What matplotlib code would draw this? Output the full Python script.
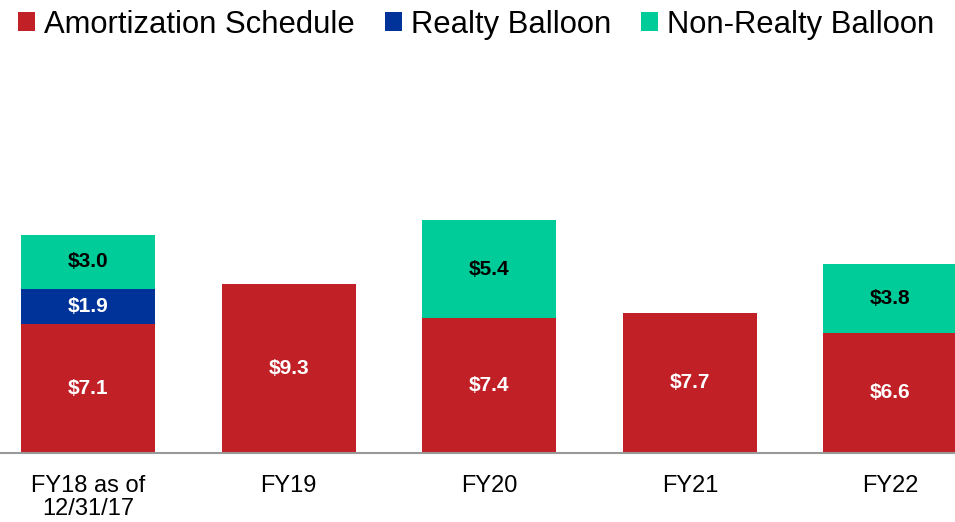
import matplotlib
matplotlib.use("Agg")
import matplotlib.pyplot as plt
import numpy as np
from matplotlib.patches import Patch

plt.rcParams['font.family'] = ['Liberation Sans', 'DejaVu Sans']

categories = ["FY18 as of\n12/31/17", "FY19", "FY20", "FY21", "FY22"]
amortization = [7.1, 9.3, 7.4, 7.7, 6.6]
realty = [1.9, 0, 0, 0, 0]
non_realty = [3.0, 0, 5.4, 0, 3.8]
series_names = ["Amortization Schedule", "Realty Balloon", "Non-Realty Balloon"]
colors = ["#C02026", "#003399", "#00CC99"]
text_colors = ["white", "white", "black"]

fig = plt.figure(figsize=(9.55, 5.22), dpi=100)
ax = fig.add_axes([0, 69/522, 1, (453-60)/522])

x = np.arange(len(categories))
width = 0.668
bottom = np.zeros(len(categories))
for vals, c, tc in zip([amortization, realty, non_realty], colors, text_colors):
    vals = np.array(vals, dtype=float)
    ax.bar(x, vals, width, bottom=bottom, color=c, edgecolor='none')
    for xi, v, b in zip(x, vals, bottom):
        if v > 0:
            ax.text(xi, b + v/2, f"${v:.1f}", ha='center', va='center',
                    color=tc, fontsize=15, fontweight='bold')
    bottom += vals

ax.set_xlim(-0.439, 4.322)
ax.set_ylim(0, 393/18.2)
ax.set_yticks([])
for s in ['top', 'right', 'left']:
    ax.spines[s].set_visible(False)
ax.spines['bottom'].set_color('#999999')
ax.spines['bottom'].set_linewidth(1.5)
ax.set_xticks(x)
ax.set_xticklabels(categories, fontsize=17, linespacing=1.05)
ax.tick_params(axis='x', length=0, pad=16)

handles = [Patch(facecolor=c, edgecolor='none', label=n) for n, c in zip(series_names, colors)]
fig.legend(handles=handles, loc='upper left', bbox_to_anchor=(0.006, 1.005), ncol=3,
           frameon=False, fontsize=22.3, handlelength=0.55, handleheight=0.55,
           handletextpad=0.3, columnspacing=0.95, borderaxespad=0)

fig.savefig("out.png", dpi=100)
